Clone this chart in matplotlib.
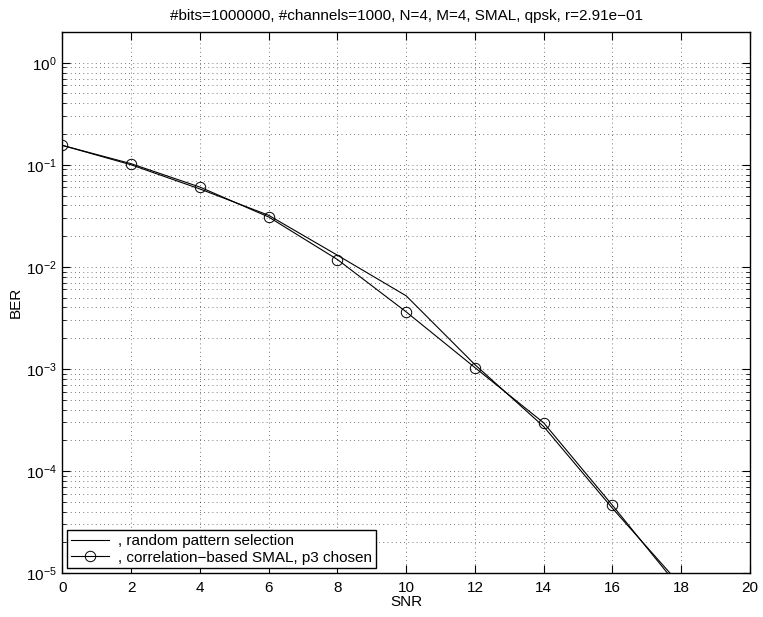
import matplotlib
matplotlib.use("Agg")
import matplotlib.pyplot as plt
from matplotlib.ticker import LogLocator, NullFormatter

plt.rcParams['font.family'] = ['Liberation Sans', 'DejaVu Sans']
plt.rcParams['mathtext.fontset'] = 'custom'
plt.rcParams['mathtext.rm'] = 'Liberation Sans'

snr = [0, 2, 4, 6, 8, 10, 12, 14, 16, 18]
ber_random = [0.155, 0.100, 0.058, 0.032, 0.013, 0.0052, 0.0011, 0.000272, 4.3e-5, 7.5e-6]
ber_corr = [0.155, 0.1025, 0.0605, 0.0308, 0.0118, 0.00362, 0.00103, 0.000296, 4.6e-5, 6.8e-6]

title = "#bits=1000000, #channels=1000, N=4, M=4, SMAL, qpsk, r=2.91e\u221201"
labels = [", random pattern selection", ", correlation\u2212based SMAL, p3 chosen"]

fig = plt.figure(figsize=(7.63, 6.17), dpi=100)
ax = fig.add_axes([0.0817, 0.0713, 0.9013, 0.8768])

ax.semilogy(snr, ber_random, color='k', lw=0.8, label=labels[0])
ax.semilogy(snr, ber_corr, color='k', lw=0.8, marker='o', mfc='none', mec='k',
            ms=7.5, mew=0.7, label=labels[1])

ax.set_xlim(0, 20)
ax.set_ylim(1e-5, 2)
ax.set_xticks(range(0, 21, 2))
ax.yaxis.set_major_locator(LogLocator(base=10, numticks=10))
ax.yaxis.set_minor_locator(LogLocator(base=10, subs=range(2, 10), numticks=10))
ax.yaxis.set_minor_formatter(NullFormatter())

ax.grid(True, which='major', axis='both', color='k', linestyle=(0, (1, 4)), lw=0.6, alpha=0.7)
ax.grid(True, which='minor', axis='y', color='k', linestyle=(0, (1, 4)), lw=0.6, alpha=0.7)

ax.tick_params(which='both', direction='in', top=True, right=True, labelsize=11)
ax.tick_params(axis='x', which='major', length=6, pad=6)
ax.tick_params(axis='y', which='major', length=6, pad=4)
ax.tick_params(which='minor', length=3)
for s in ax.spines.values():
    s.set_linewidth(1.0)

ax.set_title(title, fontsize=11, pad=9)
ax.set_xlabel("SNR", fontsize=11, labelpad=0)
ax.set_ylabel("BER", fontsize=11, labelpad=2)

leg = ax.legend(loc='lower left', fontsize=11, frameon=True, fancybox=False,
                edgecolor='k', framealpha=1, borderaxespad=0.3, handlelength=2.5,
                borderpad=0.25, labelspacing=0.15, handletextpad=0.6)
leg.get_frame().set_linewidth(1.0)

fig.savefig("out.png", dpi=100)
